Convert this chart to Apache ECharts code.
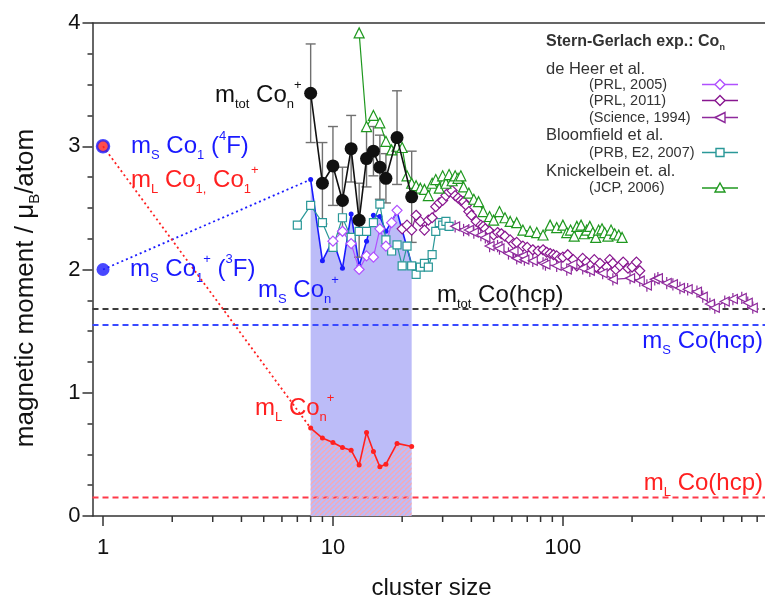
<!DOCTYPE html>
<html>
<head>
<meta charset="utf-8">
<script src="https://cdn.jsdelivr.net/npm/echarts@6/dist/echarts.min.js"></script>
<style>
  html, body { margin: 0; padding: 0; background: #fff; }
  #chart { width: 765px; height: 605px; }
</style>
</head>
<body>
<div id="chart"></div>
<script>
const FONT = '"Liberation Sans", Arial, Helvetica, sans-serif';

// XMCD on Co_n+ clusters: total, spin and orbital moments (muB / atom)
const xmcdSizes  = [8, 9, 10, 11, 12, 13, 14, 15, 16, 17, 19, 22];
const totMoment  = [3.43, 2.70, 2.84, 2.56, 2.98, 2.40, 2.90, 2.96, 2.83, 2.74, 3.07, 2.59];
const totError   = [0.40, 0.33, 0.32, 0.27, 0.27, 0.30, 0.23, 0.20, 0.26, 0.20, 0.38, 0.37];
const spinMoment = [2.73, 2.07, 2.24, 2.01, 2.45, 2.03, 2.23, 2.44, 2.43, 2.31, 2.47, 2.04];
const orbMoment  = [0.713, 0.632, 0.597, 0.556, 0.534, 0.413, 0.678, 0.524, 0.40, 0.42, 0.589, 0.564];

// single atom / ion (n = 1)
const atomSize   = 1;
const spinCo1    = 3.0;   // Co1 (4F)
const spinCo1Ion = 2.0;   // Co1+ (3F)
const orbCo1     = 3.0;   // Co1, Co1+

// bulk hcp cobalt
const hcpTot  = 1.68;
const hcpSpin = 1.55;
const hcpOrb  = 0.15;

// Stern-Gerlach: de Heer et al. (PRL, 2005)
const heer05N = [10, 11, 12, 13, 14, 15, 16, 17, 18, 19];
const heer05M = [2.23, 2.31, 2.21, 2.00, 2.11, 2.10, 2.33, 2.19, 2.38, 2.48];

// de Heer et al. (PRL, 2011)
const heer11N = [20, 21, 22, 23, 24, 25, 26, 27, 28, 29, 30, 31, 32, 33, 34, 35, 36, 37, 38, 39, 40,
                 42, 44, 45, 46, 48, 50, 52, 54, 56, 59, 61, 63, 67, 70, 74, 78, 82, 85, 88, 91, 94, 97, 100,
                 105, 111, 115, 119, 122, 127, 133, 137, 140, 145, 149, 155, 160, 165, 170, 177, 183, 192, 200, 209, 216];
const heer11M = [2.33, 2.36, 2.32, 2.44, 2.39, 2.32, 2.40, 2.42, 2.51, 2.54, 2.56, 2.60, 2.63, 2.64, 2.60, 2.58, 2.56, 2.55, 2.52, 2.47, 2.44,
                 2.39, 2.36, 2.35, 2.33, 2.31, 2.28, 2.30, 2.29, 2.27, 2.24, 2.21, 2.22, 2.19, 2.18, 2.16, 2.15, 2.16, 2.14, 2.13, 2.12, 2.11, 2.09, 2.10,
                 2.12, 2.08, 2.03, 2.06, 2.09, 2.06, 2.04, 2.08, 2.02, 2.05, 1.99, 2.02, 2.08, 2.05, 2.00, 2.03, 2.06, 2.01, 2.02, 2.06, 1.99];

// de Heer et al. (Science, 1994)
const heer94N = [34, 37, 39, 41, 44, 46, 48, 52, 53, 58, 61, 63, 67, 68, 74, 82, 84, 94, 104, 110,
                 122, 131, 149, 165, 196, 216, 232, 251, 259, 283, 301, 323, 349, 383, 406, 436, 458, 506, 549, 600, 637, 670];
const heer94M = [2.35, 2.32, 2.32, 2.30, 2.28, 2.26, 2.19, 2.19, 2.17, 2.13, 2.15, 2.09, 2.11, 2.08, 2.07, 2.05, 2.04, 2.03, 2.00, 2.04,
                 2.01, 1.99, 1.97, 1.92, 1.93, 1.91, 1.87, 1.92, 1.93, 1.89, 1.88, 1.85, 1.84, 1.82, 1.78, 1.72, 1.69, 1.74, 1.76, 1.77, 1.73, 1.69];
const heer94Err = 0.05;

// Bloomfield et al. (PRB, E2, 2007)
const bloomN = [7, 8, 9, 10, 11, 12, 13, 14, 15, 16, 17, 18, 19, 20, 21, 22, 23, 24, 25, 26, 27, 28, 29, 30, 31, 32];
const bloomM = [2.36, 2.52, 2.38, 2.18, 2.42, 2.26, 2.31, 2.31, 2.38, 2.53, 2.24, 2.15, 2.20, 2.03, 2.19, 2.03, 1.96, 2.02, 2.05, 2.02, 2.12, 2.31, 2.38, 2.36, 2.39, 2.35];

// Knickelbein (JCP, 2006)
const knickN = [13, 14, 15, 16, 17, 18, 19, 20, 21, 22, 23, 24, 25, 26, 27, 28, 29, 30, 31, 32, 33, 34, 35, 36, 37,
                39, 41, 43, 45, 48, 50, 53, 56, 59, 63, 67, 72, 77, 82, 88, 94, 100, 104, 108, 112,
                115, 120, 124, 127, 131, 135, 139, 143, 148, 152, 157, 162, 168, 175, 181];
const knickM = [3.92, 3.16, 3.25, 3.19, 3.04, 2.97, 3.00, 2.99, 2.76, 2.70, 2.68, 2.66, 2.65, 2.60, 2.70, 2.73, 2.66, 2.76, 2.70, 2.77, 2.72, 2.76, 2.74, 2.76, 2.67,
                2.62, 2.57, 2.55, 2.47, 2.43, 2.40, 2.47, 2.42, 2.39, 2.38, 2.32, 2.31, 2.30, 2.28, 2.36, 2.34, 2.36, 2.30, 2.32, 2.27,
                2.35, 2.36, 2.29, 2.32, 2.35, 2.30, 2.26, 2.32, 2.33, 2.30, 2.27, 2.32, 2.29, 2.28, 2.26];

// axis ranges and ticks
const xRange = [0.9, 800];
const yRange = [0, 4];
const xMinorTicks = [2, 3, 4, 5, 6, 7, 8, 9, 20, 30, 40, 50, 60, 70, 80, 90, 200, 300, 400, 500, 600, 700];

const COL = {
  axis: '#333333', text: '#111111', black: '#111111', err: '#707070',
  blue: '#1a1aff', red: '#ff2020', shade: '#bcbcf8',
  v05: '#b050ff', p11: '#88168f', p94: '#8e2a9c', teal: '#2a9898', green: '#1f981f',
  hcpTot: '#3c3c3c', hcpSpin: '#3a4aff', hcpOrb: '#ff3a4a', legend: '#333333'
};

const pairs = (xs, ys) => xs.map((x, i) => [x, ys[i]]);

// diagonal hatch used for the orbital-moment area
function hatchPattern() {
  const s = 5;
  const c = document.createElement('canvas');
  c.width = s; c.height = s;
  const g = c.getContext('2d');
  g.strokeStyle = 'rgba(255,165,170,0.9)';
  g.lineWidth = 1.3;
  g.beginPath();
  g.moveTo(-1, s + 1); g.lineTo(s + 1, -1);
  g.moveTo(-1 - s, s + 1); g.lineTo(1, -1);
  g.moveTo(s - 1, 2 * s + 1); g.lineTo(2 * s + 1, s - 1);
  g.stroke();
  return c;
}

function errorBarSeries(data, color, cap, width) {
  return {
    type: 'custom', silent: true, z: 3,
    encode: { x: 0, y: 1 },
    data: data,
    renderItem: (params, api) => {
      const x = api.value(0), y = api.value(1), e = api.value(2);
      const hi = api.coord([x, y + e]);
      const lo = api.coord([x, y - e]);
      const st = { stroke: color, lineWidth: width };
      const kids = [{ type: 'line', shape: { x1: hi[0], y1: hi[1], x2: lo[0], y2: lo[1] }, style: st }];
      if (cap > 0) {
        kids.push({ type: 'line', shape: { x1: hi[0] - cap, y1: hi[1], x2: hi[0] + cap, y2: hi[1] }, style: st });
        kids.push({ type: 'line', shape: { x1: lo[0] - cap, y1: lo[1], x2: lo[0] + cap, y2: lo[1] }, style: st });
      }
      return { type: 'group', children: kids };
    }
  };
}

function openSeries(name, xs, ys, color, symbol, size, extra) {
  return Object.assign({
    name: name, type: 'line', z: 4,
    data: pairs(xs, ys),
    symbol: symbol, symbolSize: size,
    showAllSymbol: true,
    lineStyle: { color: color, width: 1.2 },
    itemStyle: { color: '#ffffff', borderColor: color, borderWidth: 1.2 },
    emphasis: { disabled: true }
  }, extra || {});
}

function hLine(y, color) {
  return {
    type: 'line', z: 2, symbol: 'none', silent: true,
    data: [[xRange[0], y], [xRange[1], y]],
    lineStyle: { color: color, width: 2, type: [6, 4] }
  };
}

// rich text for annotations with sub- and superscripts
const annRich = {
  t: { fontSize: 24, lineHeight: 32, fontFamily: FONT },
  b: { fontSize: 13, lineHeight: 13, verticalAlign: 'bottom', fontFamily: FONT },
  p: { fontSize: 13, lineHeight: 13, verticalAlign: 'top', fontFamily: FONT }
};
function ann(x, y, text, color, align) {
  return {
    type: 'text', x: x, y: y, z: 100, silent: true,
    style: { text: text, fill: color, align: align || 'left', verticalAlign: 'middle', rich: annRich, font: '24px ' + FONT }
  };
}

// legend block
const legRich = {
  h: { fontSize: 16, fontWeight: 'bold', fontFamily: FONT, lineHeight: 20 },
  hs: { fontSize: 9, fontWeight: 'bold', fontFamily: FONT, lineHeight: 9, verticalAlign: 'bottom' }
};
function legText(x, y, text, size) {
  return { type: 'text', x: x, y: y, silent: true,
    style: { text: text, fill: COL.legend, font: size + 'px ' + FONT, verticalAlign: 'middle', align: 'left' } };
}
function legMarker(y, color, kind) {
  const x1 = 702, x2 = 738, cx = 720, r = 5;
  const st = { fill: '#ffffff', stroke: color, lineWidth: 1.4 };
  let mk;
  if (kind === 'diamond') mk = { type: 'polygon', shape: { points: [[cx, y - r], [cx + r, y], [cx, y + r], [cx - r, y]] }, style: st };
  else if (kind === 'left') mk = { type: 'polygon', shape: { points: [[cx - r, y], [cx + r, y - r], [cx + r, y + r]] }, style: st };
  else if (kind === 'rect') mk = { type: 'rect', shape: { x: cx - 4, y: y - 4, width: 8, height: 8 }, style: st };
  else mk = { type: 'polygon', shape: { points: [[cx, y - r], [cx + r, y + r * 0.8], [cx - r, y + r * 0.8]] }, style: st };
  return [
    { type: 'line', silent: true, shape: { x1: x1, y1: y, x2: x2, y2: y }, style: { stroke: color, lineWidth: 1.4 } },
    Object.assign(mk, { silent: true })
  ];
}

const graphics = [
  { type: 'text', x: 546, y: 42, silent: true,
    style: { text: '{h|Stern-Gerlach exp.: Co}{hs|n}', fill: COL.legend, rich: legRich, verticalAlign: 'middle' } },
  legText(546, 69, 'de Heer et al.', 16.5),
  legText(589, 84.5, '(PRL, 2005)', 14.5),
  legText(589, 100.5, '(PRL, 2011)', 14.5),
  legText(589, 117.5, '(Science, 1994)', 14.5),
  legText(546, 135, 'Bloomfield et al.', 16.5),
  legText(589, 152.5, '(PRB, E2, 2007)', 14.5),
  legText(546, 171.5, 'Knickelbein et. al.', 16.5),
  legText(589, 188, '(JCP, 2006)', 14.5),
  ...legMarker(84.5, COL.v05, 'diamond'),
  ...legMarker(100.5, COL.p11, 'diamond'),
  ...legMarker(117.5, COL.p94, 'left'),
  ...legMarker(152.5, COL.teal, 'rect'),
  ...legMarker(188, COL.green, 'up'),

  // value-axis title, rotated
  { type: 'text', x: 26, y: 288, rotation: Math.PI / 2, silent: true,
    style: {
      text: '{a|magnetic moment / μ}{s|B}{a|/atom}', fill: COL.text, align: 'center', verticalAlign: 'middle',
      rich: {
        a: { fontSize: 26, lineHeight: 32, fontFamily: FONT },
        s: { fontSize: 15, lineHeight: 15, verticalAlign: 'bottom', fontFamily: FONT }
      }
    } },

  ann(215, 95, '{t|m}{b|tot}{t| Co}{b|n}{p|+}', COL.black),
  ann(131, 146, '{t|m}{b|S}{t| Co}{b|1}{t| (}{p|4}{t|F)}', COL.blue),
  ann(131, 180, '{t|m}{b|L}{t| Co}{b|1,}{t| Co}{b|1}{p|+}', COL.red),
  ann(130, 269, '{t|m}{b|S}{t| Co}{b|1}{p|+}{t| (}{p|3}{t|F)}', COL.blue),
  ann(258, 290, '{t|m}{b|S}{t| Co}{b|n}{p|+}', COL.blue),
  ann(437, 295, '{t|m}{b|tot}{t| Co(hcp)}', COL.black),
  ann(763, 341, '{t|m}{b|S}{t| Co(hcp)}', COL.blue, 'right'),
  ann(255, 408, '{t|m}{b|L}{t| Co}{b|n}{p|+}', COL.red),
  ann(763, 483, '{t|m}{b|L}{t| Co(hcp)}', COL.red, 'right')
];

const isDecade = v => Math.abs(Math.log10(v) - Math.round(Math.log10(v))) < 1e-6;

const option = {
  animation: false,
  backgroundColor: '#ffffff',
  textStyle: { fontFamily: FONT },
  grid: { left: 92.5, top: 23, width: 678, height: 493, containLabel: false, outerBoundsMode: 'none' },
  xAxis: [{
    type: 'log', logBase: 10, min: xRange[0], max: xRange[1],
    axisLine: { show: true, onZero: false, lineStyle: { color: COL.axis, width: 1.5 } },
    axisTick: { show: true, length: 10, lineStyle: { color: COL.axis, width: 1.5 } },
    minorTick: { show: false },
    splitLine: { show: false },
    axisLabel: {
      fontSize: 22, color: COL.text, fontFamily: FONT, margin: 21,
      showMinLabel: false, showMaxLabel: false,
      formatter: v => isDecade(v) ? String(Math.round(v)) : ''
    },
    name: 'cluster size', nameLocation: 'middle', nameGap: 60,
    nameTextStyle: { fontSize: 24, color: COL.text, fontFamily: FONT }
  }, {
    type: 'log', logBase: 10, min: xRange[0], max: xRange[1], position: 'top',
    axisLine: { show: true, onZero: false, lineStyle: { color: COL.axis, width: 1.5 } },
    axisTick: { show: false }, axisLabel: { show: false }, splitLine: { show: false }
  }],
  yAxis: {
    type: 'value', min: yRange[0], max: yRange[1], interval: 1,
    axisLine: { show: true, onZero: false, lineStyle: { color: COL.axis, width: 1.5 } },
    axisTick: { show: true, length: 10, lineStyle: { color: COL.axis, width: 1.5 } },
    minorTick: { show: true, splitNumber: 4, length: 5, lineStyle: { color: COL.axis, width: 1.5 } },
    splitLine: { show: false },
    axisLabel: { fontSize: 22, color: COL.text, fontFamily: FONT, margin: 12 }
  },
  graphic: graphics,
  series: [
    // spin moment of Co_n+ with shaded area
    {
      name: 'mS Con+', type: 'line', z: 1,
      data: pairs(xmcdSizes, spinMoment),
      symbol: 'circle', symbolSize: 5, showAllSymbol: true,
      lineStyle: { color: COL.blue, width: 1.6 },
      itemStyle: { color: COL.blue },
      areaStyle: { color: COL.shade, opacity: 1 }
    },
    // orbital moment of Co_n+ with hatched area
    {
      name: 'mL Con+', type: 'line', z: 6,
      data: pairs(xmcdSizes, orbMoment),
      symbol: 'circle', symbolSize: 5, showAllSymbol: true,
      lineStyle: { color: COL.red, width: 1.6 },
      itemStyle: { color: COL.red },
      areaStyle: { color: { image: hatchPattern(), repeat: 'repeat' }, opacity: 1 }
    },
    hLine(hcpTot, COL.hcpTot),
    hLine(hcpSpin, COL.hcpSpin),
    hLine(hcpOrb, COL.hcpOrb),
    // dotted guides from the atom / ion to the smallest cluster
    {
      type: 'line', z: 2, symbol: 'none', silent: true,
      data: [[atomSize, spinCo1Ion], [xmcdSizes[0], spinMoment[0]]],
      lineStyle: { color: COL.blue, width: 1.8, type: [2, 3] }
    },
    {
      type: 'line', z: 2, symbol: 'none', silent: true,
      data: [[atomSize, orbCo1], [xmcdSizes[0], orbMoment[0]]],
      lineStyle: { color: COL.red, width: 1.8, type: [2, 3] }
    },
    openSeries('Bloomfield 2007', bloomN, bloomM, COL.teal, 'rect', 8),
    openSeries('de Heer 2005', heer05N, heer05M, COL.v05, 'diamond', 10),
    openSeries('de Heer 2011', heer11N, heer11M, COL.p11, 'diamond', 10),
    errorBarSeries(heer94N.map((n, i) => [n, heer94M[i], heer94Err]), COL.p94, 0, 1.2),
    openSeries('de Heer 1994', heer94N, heer94M, COL.p94, 'triangle', 9, { symbolRotate: 90 }),
    openSeries('Knickelbein 2006', knickN, knickM, COL.green, 'triangle', 10),
    // total moment of Co_n+ with error bars
    errorBarSeries(xmcdSizes.map((n, i) => [n, totMoment[i], totError[i]]), COL.err, 5, 1.4),
    {
      name: 'mtot Con+', type: 'line', z: 7,
      data: pairs(xmcdSizes, totMoment),
      symbol: 'circle', symbolSize: 13, showAllSymbol: true,
      lineStyle: { color: COL.black, width: 1.6 },
      itemStyle: { color: COL.black }
    },
    // atom and ion points
    {
      type: 'scatter', z: 8, symbolSize: 13,
      data: [[atomSize, spinCo1Ion]],
      itemStyle: { color: COL.blue }
    },
    {
      type: 'scatter', z: 8, symbolSize: 12,
      data: [[atomSize, spinCo1]],
      itemStyle: { color: COL.red, borderColor: COL.blue, borderWidth: 2.5 }
    },
    // minor ticks of the logarithmic cluster-size axis
    {
      type: 'custom', silent: true, z: 9, clip: false,
      encode: { x: 0, y: 1 },
      data: xMinorTicks.map(v => [v, yRange[0]]),
      renderItem: (params, api) => {
        const p = api.coord([api.value(0), yRange[0]]);
        return { type: 'line', shape: { x1: p[0], y1: p[1], x2: p[0], y2: p[1] + 6 },
                 style: { stroke: COL.axis, lineWidth: 1.5 } };
      }
    }
  ]
};

const chart = echarts.init(document.getElementById('chart'), null, { renderer: 'canvas' });
chart.setOption(option);
</script>
</body>
</html>
